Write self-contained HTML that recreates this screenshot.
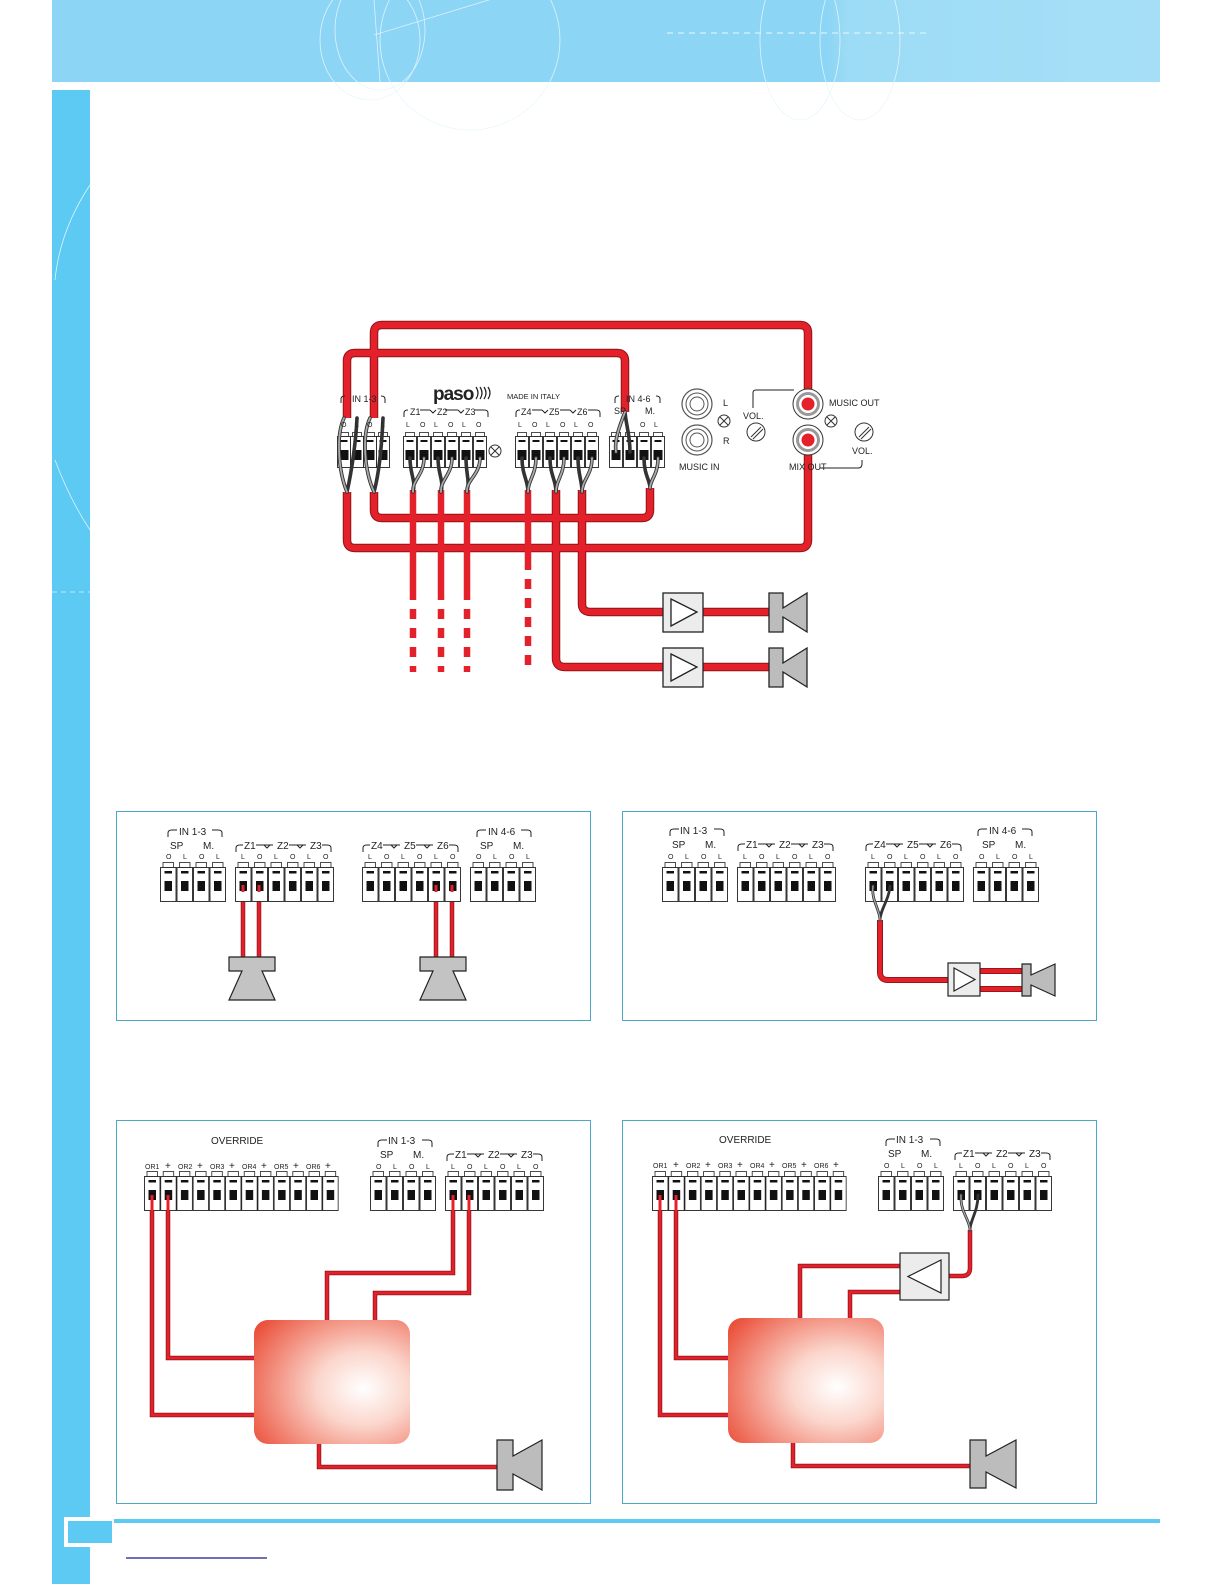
<!DOCTYPE html>
<html><head><meta charset="utf-8"><style>
html,body{margin:0;padding:0;background:#fff}
svg{display:block}
text{font-family:"Liberation Sans",sans-serif;fill:#222}
</style></head><body>
<svg width="1224" height="1584" viewBox="0 0 1224 1584" xmlns="http://www.w3.org/2000/svg">
<defs>
<linearGradient id="hdr" x1="0" x2="1" y1="0" y2="0">
<stop offset="0" stop-color="#8dd5f4"/><stop offset="0.7" stop-color="#8dd5f4"/><stop offset="0.72" stop-color="#9ddcf6"/><stop offset="1" stop-color="#a6def7"/>
</linearGradient>
<radialGradient id="box" cx="0.7" cy="0.55" r="0.85">
<stop offset="0" stop-color="#ffffff"/><stop offset="0.35" stop-color="#fbd6cc"/><stop offset="1" stop-color="#ea4c36"/>
</radialGradient>
<symbol id="t" viewBox="0 0 16.5 40" width="16.5" height="40">
<rect x="3" y="0.5" width="10.5" height="5" fill="#fff" stroke="#222" stroke-width="0.8"/>
<rect x="0.5" y="5.5" width="15.5" height="34" fill="#fff" stroke="#222" stroke-width="0.9"/>
<rect x="4.5" y="9" width="7.5" height="2.5" fill="#111"/>
<rect x="4.5" y="19" width="7.5" height="10" fill="#111"/>
</symbol>
<symbol id="tm" viewBox="0 0 14 36" width="14" height="36">
<rect x="2.5" y="0.5" width="9" height="4" fill="#fff" stroke="#222" stroke-width="0.8"/>
<rect x="0.5" y="4.5" width="13" height="31" fill="#fff" stroke="#222" stroke-width="0.9"/>
<rect x="3.5" y="8" width="7" height="2" fill="#111"/>
<rect x="2.5" y="18" width="9" height="10" fill="#111"/>
</symbol>
</defs>

<!-- header -->
<rect x="52" y="0" width="1108" height="82" fill="url(#hdr)"/>
<g fill="none" stroke="#e6f6fd" stroke-width="0.8" opacity="0.9">
<ellipse cx="380" cy="30" rx="45" ry="60"/><ellipse cx="370" cy="40" rx="50" ry="60"/>
<ellipse cx="800" cy="40" rx="40" ry="80"/><ellipse cx="860" cy="40" rx="40" ry="80"/>
<line x1="374" y1="35" x2="505" y2="-5"/><line x1="374" y1="0" x2="380" y2="82"/>
<ellipse cx="470" cy="40" rx="90" ry="90"/>
</g>
<line x1="667" y1="33" x2="930" y2="33" stroke="#eaf8ff" stroke-width="1" stroke-dasharray="6,5"/>
<!-- sidebar -->
<rect x="52" y="90" width="38" height="1494" fill="#5ccaf2"/>
<path d="M90,185 Q60,230 55,280 M55,460 Q70,500 90,530" fill="none" stroke="#dff4fd" stroke-width="0.8"/>
<line x1="52" y1="592" x2="90" y2="592" stroke="#dff4fd" stroke-width="0.8" stroke-dasharray="5,4"/>
<!-- footer -->
<rect x="64" y="1519" width="1096" height="4" fill="#5ccaf2"/>
<rect x="64" y="1517" width="50" height="30" fill="#fff"/>
<rect x="68" y="1521" width="44" height="22" fill="#5ccaf2"/>
<line x1="126" y1="1558" x2="267" y2="1558" stroke="#1a1a8a" stroke-width="1.2"/>

<!-- ===== MAIN DIAGRAM ===== -->
<g fill="none" stroke-linejoin="round">
<g stroke="#8c1418" stroke-width="8.5">
<path d="M374,418 V333 Q374,325 382,325 H800 Q808,325 808,333 V404"/>
<path d="M347,418 V361 Q347,353 355,353 H617 Q625,353 625,361 V412"/>
<path d="M347,492 V540 Q347,548 355,548 H800 Q808,548 808,540 V440"/>
<path d="M374,492 V510 Q374,518 382,518 H642 Q650,518 650,510 V488"/>
<path d="M556,490 V658 Q556,667 565,667 H663 M703,667 H769"/>
<path d="M582,490 V604 Q582,612 591,612 H663 M703,612 H769"/>
</g>
<g stroke="#e4202b" stroke-width="6.5">
<path d="M374,418 V333 Q374,325 382,325 H800 Q808,325 808,333 V404"/>
<path d="M347,418 V361 Q347,353 355,353 H617 Q625,353 625,361 V412"/>
<path d="M347,492 V540 Q347,548 355,548 H800 Q808,548 808,540 V440"/>
<path d="M374,492 V510 Q374,518 382,518 H642 Q650,518 650,510 V488"/>
<path d="M556,490 V658 Q556,667 565,667 H663 M703,667 H769"/>
<path d="M582,490 V604 Q582,612 591,612 H663 M703,612 H769"/>
<path d="M413,490 V590 M441,490 V590 M467,490 V590 M528,490 V560"/>
<path d="M413,590 V672 M441,590 V672 M467,590 V672 M528,560 V672" stroke-dasharray="10,9"/>
</g>
</g>

<!-- main terminals -->
<g>
<use href="#tm" x="337" y="432"/><use href="#tm" x="350" y="432"/><use href="#tm" x="363" y="432"/><use href="#tm" x="376" y="432"/>
<use href="#tm" x="403" y="432"/><use href="#tm" x="417" y="432"/><use href="#tm" x="431" y="432"/><use href="#tm" x="445" y="432"/><use href="#tm" x="459" y="432"/><use href="#tm" x="473" y="432"/>
<use href="#tm" x="515" y="432"/><use href="#tm" x="529" y="432"/><use href="#tm" x="543" y="432"/><use href="#tm" x="557" y="432"/><use href="#tm" x="571" y="432"/><use href="#tm" x="585" y="432"/>
<use href="#tm" x="609" y="432"/><use href="#tm" x="623" y="432"/><use href="#tm" x="637" y="432"/><use href="#tm" x="651" y="432"/>
</g>
<!-- gray twisted wires -->
<g fill="none" stroke-linecap="round">
<g stroke="#333" stroke-width="3.6">
<path d="M344,418 C336,435 338,470 347,492 M357,418 C356,440 352,470 347,492 M370,418 C362,435 364,470 374,492 M383,418 C382,440 380,470 374,492"/>
<path d="M410,458 C410,475 416,480 413,492 M424,458 C424,475 412,480 413,492 M438,458 C438,475 444,480 441,492 M452,458 C452,475 440,480 441,492 M466,458 C466,475 470,480 467,492 M480,458 C480,475 466,480 467,492"/>
<path d="M522,458 C522,475 528,480 528,492 M536,458 C536,475 528,480 528,492 M550,458 C550,475 556,480 556,492 M564,458 C564,475 556,480 556,492 M578,458 C578,475 582,480 582,492 M592,458 C592,475 582,480 582,492"/>
<path d="M616,452 C614,440 620,425 625,412 M630,452 C630,435 626,425 625,412 M644,458 C644,475 650,480 650,488 M658,458 C658,475 650,480 650,488"/>
</g>
<g stroke="#aaa" stroke-width="1.8">
<path d="M344,418 C336,435 338,470 347,492 M370,418 C362,435 364,470 374,492"/>
<path d="M424,458 C424,475 412,480 413,492 M452,458 C452,475 440,480 441,492 M480,458 C480,475 466,480 467,492"/>
<path d="M536,458 C536,475 528,480 528,492 M564,458 C564,475 556,480 556,492 M592,458 C592,475 582,480 582,492"/>
<path d="M616,452 C614,440 620,425 625,412 M658,458 C658,475 650,480 650,488"/>
</g>
</g>

<!-- main labels -->
<g font-size="9">
<text x="352" y="402">IN 1-3</text>
<text x="626" y="402">IN 4-6</text>
<text x="410" y="415">Z1</text><text x="437" y="415">Z2</text><text x="465" y="415">Z3</text>
<text x="521" y="415">Z4</text><text x="549" y="415">Z5</text><text x="577" y="415">Z6</text>
<text x="614" y="414">SP</text><text x="645" y="414">M.</text>
<text x="507" y="399" font-size="7.5">MADE IN ITALY</text>
</g>
<g font-size="7" fill="#333">
<text x="406" y="427">L</text><text x="420" y="427">O</text><text x="434" y="427">L</text><text x="448" y="427">O</text><text x="462" y="427">L</text><text x="476" y="427">O</text>
<text x="518" y="427">L</text><text x="532" y="427">O</text><text x="546" y="427">L</text><text x="560" y="427">O</text><text x="574" y="427">L</text><text x="588" y="427">O</text>
<text x="341" y="427">O</text><text x="355" y="427">L</text><text x="367" y="427">O</text><text x="381" y="427">L</text>
<text x="640" y="427">O</text><text x="654" y="427">L</text>
</g>
<g fill="none" stroke="#222" stroke-width="1">
<path d="M341,403 V399 Q341,396 345,396 M385,403 V399 Q385,396 381,396"/>
<path d="M615,403 V399 Q615,396 619,396 M660,403 V399 Q660,396 656,396"/>
<path d="M404,417 V413 Q404,410 408,410 M488,417 V413 Q488,410 484,410 M430,410 L433,413 L436,410 M458,410 L461,413 L464,410 M420,410 H430 M445,410 H458 M475,410 H484"/>
<path d="M516,417 V413 Q516,410 520,410 M600,417 V413 Q600,410 596,410 M542,410 L545,413 L548,410 M570,410 L573,413 L576,410 M532,410 H542 M560,410 H570 M588,410 H596"/>
</g>
<text x="433" y="400" font-size="19" font-weight="bold" letter-spacing="-1">paso</text>
<g fill="none" stroke="#222" stroke-width="1.2"><path d="M476,387 q4,6 0,12 M480,387 q4,6 0,12 M484,387 q4,6 0,12 M488,387 q4,6 0,12"/></g>
<!-- screws -->
<g fill="#fff" stroke="#333" stroke-width="1">
<circle cx="495" cy="451" r="6"/><path d="M491,447 L499,455 M499,447 L491,455"/>
<circle cx="724" cy="421" r="6"/><path d="M720,417 L728,425 M728,417 L720,425"/>
<circle cx="831" cy="421" r="6"/><path d="M827,417 L835,425 M835,417 L827,425"/>
<circle cx="756" cy="432" r="9"/><path d="M751,437 L761,427 M753,439 L763,429"/>
<circle cx="864" cy="432" r="9"/><path d="M859,437 L869,427 M861,439 L871,429"/>
</g>
<!-- jacks -->
<g fill="#fff" stroke="#555">
<circle cx="697" cy="404" r="15" stroke-width="1.2"/><circle cx="697" cy="404" r="11"/><circle cx="697" cy="404" r="7"/>
<circle cx="697" cy="440" r="15" stroke-width="1.2"/><circle cx="697" cy="440" r="11"/><circle cx="697" cy="440" r="7"/>
</g>
<g>
<circle cx="808" cy="404" r="15" fill="#fff" stroke="#333"/><circle cx="808" cy="404" r="12" fill="#999"/><circle cx="808" cy="404" r="9" fill="#fff"/><circle cx="808" cy="404" r="6.5" fill="#e4202b"/>
<circle cx="808" cy="440" r="15" fill="#fff" stroke="#333"/><circle cx="808" cy="440" r="12" fill="#999"/><circle cx="808" cy="440" r="9" fill="#fff"/><circle cx="808" cy="440" r="6.5" fill="#e4202b"/>
</g>
<g font-size="9">
<text x="723" y="406">L</text><text x="723" y="444">R</text>
<text x="679" y="470">MUSIC IN</text>
<text x="743" y="419">VOL.</text>
<text x="829" y="406">MUSIC OUT</text>
<text x="789" y="470">MIX OUT</text>
<text x="852" y="454">VOL.</text>
</g>
<path d="M753,408 V393 Q753,390 756,390 H794 M820,468 H858 Q862,468 862,464 V460" fill="none" stroke="#222"/>
<!-- amps & speakers main -->
<g stroke="#222" stroke-width="1.3">
<rect x="663" y="593" width="40" height="39" fill="#ececec"/><path d="M671,599 L697,612 L671,626 Z" fill="#fff"/>
<rect x="663" y="648" width="40" height="39" fill="#ececec"/><path d="M671,654 L697,667 L671,681 Z" fill="#fff"/>
<path d="M769,593 H783 V608 L807,593 V632 L783,617 V632 H769 Z" fill="#bcbcbc"/>
<path d="M769,648 H783 V663 L807,648 V687 L783,672 V687 H769 Z" fill="#bcbcbc"/>
</g>

<!-- ===== PANEL FRAMES ===== -->
<g fill="none" stroke="#4ba9c6" stroke-width="1">
<rect x="116.5" y="811.5" width="474" height="209"/>
<rect x="622.5" y="811.5" width="474" height="209"/>
<rect x="116.5" y="1120.5" width="474" height="383"/>
<rect x="622.5" y="1120.5" width="474" height="383"/>
</g>

<!-- Panel 1 -->
<g stroke-width="1">
<g stroke="#8c1418" stroke-width="4.5" fill="none"><path d="M243,885 V966 M259,885 V966 M436,885 V966 M452,885 V966"/></g>
<g stroke="#e4202b" stroke-width="3" fill="none"><path d="M243,885 V966 M259,885 V966 M436,885 V966 M452,885 V966"/></g>
</g>
<g>
<use href="#t" x="160" y="862"/><use href="#t" x="176.5" y="862"/><use href="#t" x="193" y="862"/><use href="#t" x="209.5" y="862"/>
<use href="#t" x="235" y="862"/><use href="#t" x="251.5" y="862"/><use href="#t" x="268" y="862"/><use href="#t" x="284.5" y="862"/><use href="#t" x="301" y="862"/><use href="#t" x="317.5" y="862"/>
<use href="#t" x="362" y="862"/><use href="#t" x="378.5" y="862"/><use href="#t" x="395" y="862"/><use href="#t" x="411.5" y="862"/><use href="#t" x="428" y="862"/><use href="#t" x="444.5" y="862"/>
<use href="#t" x="470" y="862"/><use href="#t" x="486.5" y="862"/><use href="#t" x="503" y="862"/><use href="#t" x="519.5" y="862"/>
</g>
<g stroke="#e4202b" stroke-width="3"><path d="M243,885 V892 M259,885 V892 M436,885 V892 M452,885 V892"/></g>
<g stroke="#222" stroke-width="1.2" fill="#c3c3c3">
<path d="M229,957 H275 V971 H262 L275,1000 H229 L242,971 H229 Z"/>
<path d="M420,957 H466 V971 H453 L466,1000 H420 L433,971 H420 Z"/>
</g>
<!-- Panel 2 -->
<g fill="none">
<path d="M880,920 V972 Q880,980 888,980 H948 M980,971 H1022 M980,989 H1022" stroke="#8c1418" stroke-width="6"/>
<path d="M880,920 V972 Q880,980 888,980 H948 M980,971 H1022 M980,989 H1022" stroke="#e4202b" stroke-width="4.2"/>
</g>
<g>
<use href="#t" x="662" y="862"/><use href="#t" x="678.5" y="862"/><use href="#t" x="695" y="862"/><use href="#t" x="711.5" y="862"/>
<use href="#t" x="737" y="862"/><use href="#t" x="753.5" y="862"/><use href="#t" x="770" y="862"/><use href="#t" x="786.5" y="862"/><use href="#t" x="803" y="862"/><use href="#t" x="819.5" y="862"/>
<use href="#t" x="865" y="862"/><use href="#t" x="881.5" y="862"/><use href="#t" x="898" y="862"/><use href="#t" x="914.5" y="862"/><use href="#t" x="931" y="862"/><use href="#t" x="947.5" y="862"/>
<use href="#t" x="973" y="862"/><use href="#t" x="989.5" y="862"/><use href="#t" x="1006" y="862"/><use href="#t" x="1022.5" y="862"/>
</g>
<g fill="none" stroke-linecap="round">
<path d="M873,886 C871,900 880,910 880,920 M890,886 C889,900 880,910 880,920" stroke="#333" stroke-width="2.8"/>
<path d="M873,886 C871,900 880,910 880,920" stroke="#aaa" stroke-width="1.2"/>
</g>
<g stroke="#222" stroke-width="1.2">
<rect x="948" y="963" width="32" height="33" fill="#ececec"/><path d="M954,968 L975,979.5 L954,991 Z" fill="#fff"/>
<path d="M1022,964 H1031 V975 L1055,964 V996 L1031,985 V996 H1022 Z" fill="#bcbcbc"/>
</g>

<!-- small panel labels (panels 1,2) -->
<g font-size="10">
<text x="179" y="835">IN 1-3</text><text x="170" y="849">SP</text><text x="203" y="849">M.</text>
<text x="244" y="849">Z1</text><text x="277" y="849">Z2</text><text x="310" y="849">Z3</text>
<text x="371" y="849">Z4</text><text x="404" y="849">Z5</text><text x="437" y="849">Z6</text>
<text x="488" y="835">IN 4-6</text><text x="480" y="849">SP</text><text x="513" y="849">M.</text>
<text x="680" y="834">IN 1-3</text><text x="672" y="848">SP</text><text x="705" y="848">M.</text>
<text x="746" y="848">Z1</text><text x="779" y="848">Z2</text><text x="812" y="848">Z3</text>
<text x="874" y="848">Z4</text><text x="907" y="848">Z5</text><text x="940" y="848">Z6</text>
<text x="989" y="834">IN 4-6</text><text x="982" y="848">SP</text><text x="1015" y="848">M.</text>
</g>
<g font-size="7" fill="#333">
<text x="166" y="859">O</text><text x="183" y="859">L</text><text x="199" y="859">O</text><text x="216" y="859">L</text>
<text x="241" y="859">L</text><text x="257" y="859">O</text><text x="274" y="859">L</text><text x="290" y="859">O</text><text x="307" y="859">L</text><text x="323" y="859">O</text>
<text x="368" y="859">L</text><text x="384" y="859">O</text><text x="401" y="859">L</text><text x="417" y="859">O</text><text x="434" y="859">L</text><text x="450" y="859">O</text>
<text x="476" y="859">O</text><text x="493" y="859">L</text><text x="509" y="859">O</text><text x="526" y="859">L</text>
<text x="668" y="859">O</text><text x="685" y="859">L</text><text x="701" y="859">O</text><text x="718" y="859">L</text>
<text x="743" y="859">L</text><text x="759" y="859">O</text><text x="776" y="859">L</text><text x="792" y="859">O</text><text x="809" y="859">L</text><text x="825" y="859">O</text>
<text x="871" y="859">L</text><text x="887" y="859">O</text><text x="904" y="859">L</text><text x="920" y="859">O</text><text x="937" y="859">L</text><text x="953" y="859">O</text>
<text x="979" y="859">O</text><text x="996" y="859">L</text><text x="1012" y="859">O</text><text x="1029" y="859">L</text>
</g>
<g fill="none" stroke="#222" stroke-width="1">
<path d="M168,837 V833 Q168,830 172,830 H177 M212,830 H218 Q222,830 222,833 V837"/>
<path d="M477,837 V833 Q477,830 481,830 H486 M521,830 H527 Q531,830 531,833 V837"/>
<path d="M236,852 V848 Q236,845 240,845 H243 M256,845 H273 M289,845 H306 M322,845 H327 Q331,845 331,848 V852 M264,845 L267,848 L270,845 M297,845 L300,848 L303,845"/>
<path d="M363,852 V848 Q363,845 367,845 H370 M383,845 H400 M416,845 H433 M449,845 H454 Q458,845 458,848 V852 M391,845 L394,848 L397,845 M424,845 L427,848 L430,845"/>
<path d="M670,836 V832 Q670,829 674,829 H679 M714,829 H720 Q724,829 724,832 V836"/>
<path d="M978,836 V832 Q978,829 982,829 H987 M1022,829 H1028 Q1032,829 1032,832 V836"/>
<path d="M738,851 V847 Q738,844 742,844 H745 M758,844 H775 M791,844 H808 M824,844 H829 Q833,844 833,847 V851 M766,844 L769,847 L772,844 M799,844 L802,847 L805,844"/>
<path d="M866,851 V847 Q866,844 870,844 H873 M886,844 H903 M919,844 H936 M952,844 H957 Q961,844 961,847 V851 M894,844 L897,847 L900,844 M927,844 L930,847 L933,844"/>
</g>

<!-- Panel 3 -->
<rect x="254" y="1320" width="156" height="124" rx="14" fill="url(#box)"/>
<g fill="none">
<g stroke="#8c1418" stroke-width="4.5">
<path d="M152,1195 V1415 H254 M168,1195 V1358 H254 M453,1195 V1273 H327 V1320 M469,1195 V1293 H375 V1320 M319,1444 V1467 H497"/>
<path d="M660,1195 V1415 H728 M676,1195 V1358 H728 M949,1266 H800 V1318 M949,1292 H850 V1318 M793,1443 V1466 H970"/>
<path d="M970,1230 V1268 Q970,1276 962,1276 H949"/>
</g>
<g stroke="#e4202b" stroke-width="3">
<path d="M152,1195 V1415 H254 M168,1195 V1358 H254 M453,1195 V1273 H327 V1320 M469,1195 V1293 H375 V1320 M319,1444 V1467 H497"/>
<path d="M660,1195 V1415 H728 M676,1195 V1358 H728 M949,1266 H800 V1318 M949,1292 H850 V1318 M793,1443 V1466 H970"/>
<path d="M970,1230 V1268 Q970,1276 962,1276 H949"/>
</g>
</g>
<g>
<use href="#t" x="144" y="1171"/><use href="#t" x="160.2" y="1171"/><use href="#t" x="176.4" y="1171"/><use href="#t" x="192.6" y="1171"/><use href="#t" x="208.8" y="1171"/><use href="#t" x="225" y="1171"/><use href="#t" x="241.2" y="1171"/><use href="#t" x="257.4" y="1171"/><use href="#t" x="273.6" y="1171"/><use href="#t" x="289.8" y="1171"/><use href="#t" x="306" y="1171"/><use href="#t" x="322.2" y="1171"/>
<use href="#t" x="370" y="1171"/><use href="#t" x="386.5" y="1171"/><use href="#t" x="403" y="1171"/><use href="#t" x="419.5" y="1171"/>
<use href="#t" x="445" y="1171"/><use href="#t" x="461.5" y="1171"/><use href="#t" x="478" y="1171"/><use href="#t" x="494.5" y="1171"/><use href="#t" x="511" y="1171"/><use href="#t" x="527.5" y="1171"/>
</g>
<g stroke="#e4202b" stroke-width="3"><path d="M152,1195 V1212 M168,1195 V1212 M453,1195 V1212 M469,1195 V1212"/></g>
<g stroke="#222" stroke-width="1.2"><path d="M497,1440 H513 V1456 L542,1440 V1490 L513,1474 V1490 H497 Z" fill="#bcbcbc"/></g>

<!-- Panel 4 -->
<rect x="728" y="1318" width="156" height="125" rx="14" fill="url(#box)"/>
<g fill="none">
<path d="M660,1195 V1415 H728 M676,1195 V1358 H728 M800,1266 V1318 M850,1292 V1318 M793,1443 V1466 H970" stroke="#e4202b" stroke-width="3"/>
</g>
<g>
<use href="#t" x="652" y="1171"/><use href="#t" x="668.2" y="1171"/><use href="#t" x="684.4" y="1171"/><use href="#t" x="700.6" y="1171"/><use href="#t" x="716.8" y="1171"/><use href="#t" x="733" y="1171"/><use href="#t" x="749.2" y="1171"/><use href="#t" x="765.4" y="1171"/><use href="#t" x="781.6" y="1171"/><use href="#t" x="797.8" y="1171"/><use href="#t" x="814" y="1171"/><use href="#t" x="830.2" y="1171"/>
<use href="#t" x="878" y="1171"/><use href="#t" x="894.5" y="1171"/><use href="#t" x="911" y="1171"/><use href="#t" x="927.5" y="1171"/>
<use href="#t" x="953" y="1171"/><use href="#t" x="969.5" y="1171"/><use href="#t" x="986" y="1171"/><use href="#t" x="1002.5" y="1171"/><use href="#t" x="1019" y="1171"/><use href="#t" x="1035.5" y="1171"/>
</g>
<g stroke="#e4202b" stroke-width="3"><path d="M660,1195 V1212 M676,1195 V1212"/></g>
<g fill="none" stroke-linecap="round">
<path d="M961,1195 C960,1212 970,1220 970,1230 M978,1195 C978,1212 970,1220 970,1230" stroke="#333" stroke-width="2.8"/>
<path d="M961,1195 C960,1212 970,1220 970,1230" stroke="#aaa" stroke-width="1.2"/>
</g>
<g stroke="#222" stroke-width="1.2">
<rect x="900" y="1253" width="49" height="47" fill="#ececec"/><path d="M941,1260 L908,1276.5 L941,1293 Z" fill="#fff"/>
<path d="M970,1440 H986 V1456 L1016,1440 V1488 L986,1472 V1488 H970 Z" fill="#bcbcbc"/>
</g>

<!-- panel 3/4 labels -->
<g font-size="10">
<text x="211" y="1144">OVERRIDE</text>
<text x="388" y="1144">IN 1-3</text><text x="380" y="1158">SP</text><text x="413" y="1158">M.</text>
<text x="455" y="1158">Z1</text><text x="488" y="1158">Z2</text><text x="521" y="1158">Z3</text>
<text x="719" y="1143">OVERRIDE</text>
<text x="896" y="1143">IN 1-3</text><text x="888" y="1157">SP</text><text x="921" y="1157">M.</text>
<text x="963" y="1157">Z1</text><text x="996" y="1157">Z2</text><text x="1029" y="1157">Z3</text>
</g>
<g font-size="7" fill="#333">
<text x="145" y="1169">OR1</text><text x="165" y="1169" font-size="10">+</text><text x="178" y="1169">OR2</text><text x="197" y="1169" font-size="10">+</text><text x="210" y="1169">OR3</text><text x="229" y="1169" font-size="10">+</text><text x="242" y="1169">OR4</text><text x="261" y="1169" font-size="10">+</text><text x="274" y="1169">OR5</text><text x="293" y="1169" font-size="10">+</text><text x="306" y="1169">OR6</text><text x="325" y="1169" font-size="10">+</text>
<text x="376" y="1169">O</text><text x="393" y="1169">L</text><text x="409" y="1169">O</text><text x="426" y="1169">L</text>
<text x="451" y="1169">L</text><text x="467" y="1169">O</text><text x="484" y="1169">L</text><text x="500" y="1169">O</text><text x="517" y="1169">L</text><text x="533" y="1169">O</text>
<text x="653" y="1168">OR1</text><text x="673" y="1168" font-size="10">+</text><text x="686" y="1168">OR2</text><text x="705" y="1168" font-size="10">+</text><text x="718" y="1168">OR3</text><text x="737" y="1168" font-size="10">+</text><text x="750" y="1168">OR4</text><text x="769" y="1168" font-size="10">+</text><text x="782" y="1168">OR5</text><text x="801" y="1168" font-size="10">+</text><text x="814" y="1168">OR6</text><text x="833" y="1168" font-size="10">+</text>
<text x="884" y="1168">O</text><text x="901" y="1168">L</text><text x="917" y="1168">O</text><text x="934" y="1168">L</text>
<text x="959" y="1168">L</text><text x="975" y="1168">O</text><text x="992" y="1168">L</text><text x="1008" y="1168">O</text><text x="1025" y="1168">L</text><text x="1041" y="1168">O</text>
</g>
<g fill="none" stroke="#222" stroke-width="1">
<path d="M378,1147 V1143 Q378,1140 382,1140 H387 M422,1140 H428 Q432,1140 432,1143 V1147"/>
<path d="M447,1161 V1157 Q447,1154 451,1154 H454 M467,1154 H484 M500,1154 H517 M533,1154 H538 Q542,1154 542,1157 V1161 M475,1154 L478,1157 L481,1154 M508,1154 L511,1157 L514,1154"/>
<path d="M886,1146 V1142 Q886,1139 890,1139 H895 M930,1139 H936 Q940,1139 940,1142 V1146"/>
<path d="M955,1160 V1156 Q955,1153 959,1153 H962 M975,1153 H992 M1008,1153 H1025 M1041,1153 H1046 Q1050,1153 1050,1156 V1160 M983,1153 L986,1156 L989,1153 M1016,1153 L1019,1156 L1022,1153"/>
</g>
</svg>
</body></html>
